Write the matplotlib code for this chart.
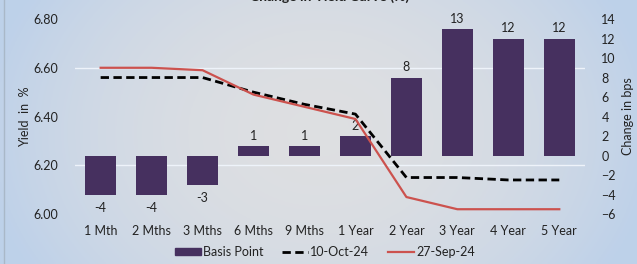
import matplotlib.pyplot as plt
from matplotlib.ticker import FixedLocator
from matplotlib.patches import Patch
from matplotlib.lines import Line2D
import numpy as np

plt.rcParams['font.family'] = ['Lato', 'DejaVu Sans']

tenors = ['1 Mth', '2 Mths', '3 Mths', '6 Mths', '9 Mths',
          '1 Year', '2 Year', '3 Year', '4 Year', '5 Year']
basis_point = [-4, -4, -3, 1, 1, 2, 8, 13, 12, 12]
yield_oct10 = [6.56, 6.56, 6.56, 6.50, 6.45, 6.41, 6.15, 6.15, 6.14, 6.14]
yield_sep27 = [6.60, 6.60, 6.59, 6.49, 6.44, 6.39, 6.07, 6.02, 6.02, 6.02]

bar_color = '#46305f'
red = '#cc524e'
txt = '#222222'

fig = plt.figure(figsize=(6.37, 2.64), dpi=100)

# background gradient: grey centre, light blue edges
bg = fig.add_axes([0, 0, 1, 1], zorder=-10)
xx, yy = np.meshgrid(np.linspace(-1, 1, 300), np.linspace(-1, 1, 120))
r = np.clip(np.abs(xx) ** 2 * 0.9 + np.abs(yy) ** 2 * 0.25, 0, 1)
c_mid = np.array([0.870, 0.875, 0.885])
c_edge = np.array([0.745, 0.820, 0.915])
img = c_mid[None, None, :] * (1 - r[..., None]) + c_edge[None, None, :] * r[..., None]
bg.imshow(img, aspect='auto', extent=[0, 1, 0, 1])
bg.axvline(0.006, color='#a9b8c8', lw=1)
bg.set_axis_off()

ax = fig.add_axes([0.118, 0.189, 0.800, 0.739])
ax.patch.set_visible(False)
ax2 = ax.twinx()
x = np.arange(len(tenors))

# bars on the right-hand scale
r_lim = (-6, 14)
l_lim = (6.0, 6.8)
l_ticks = np.arange(6.0, 6.81, 0.2)
ax.set_ylim(*r_lim)
ax.set_xlim(-0.5, len(tenors) - 0.5)
ax.bar(x, basis_point, width=0.6, color=bar_color, zorder=2)
for xi, v in zip(x, basis_point):
    off = 3 if v >= 0 else -5
    ax.annotate(str(v), (xi, v), xytext=(0, off), textcoords='offset points',
                ha='center', va='bottom' if v >= 0 else 'top',
                fontsize=9, color=txt)
ax.yaxis.tick_right()
ax.yaxis.set_label_position('right')
ax.set_yticks(np.arange(-6, 15, 2))
ax.set_ylabel('Change in bps', fontsize=9, color=txt, labelpad=4)
# gridlines follow the yield scale
grid_pos = r_lim[0] + (l_ticks - l_lim[0]) / (l_lim[1] - l_lim[0]) * (r_lim[1] - r_lim[0])
ax.yaxis.set_minor_locator(FixedLocator(grid_pos))
ax.grid(axis='y', which='minor', color='#eef3fa', lw=1, zorder=0)
ax.tick_params(axis='y', which='minor', length=0)
ax.set_xticks(x)
ax.set_xticklabels(tenors)
ax.tick_params(axis='both', which='major', length=0, labelsize=9, colors=txt)
ax.tick_params(axis='x', pad=8)
ax.tick_params(axis='y', pad=12)
for s in ax.spines.values():
    s.set_visible(False)

# lines on the left-hand yield scale
ax2.yaxis.tick_left()
ax2.yaxis.set_label_position('left')
ax2.plot(x, yield_oct10, color='black', lw=2, ls=(0, (3, 1.6)), zorder=3)
ax2.plot(x, yield_sep27, color=red, lw=1.6, zorder=4)
ax2.set_ylim(*l_lim)
ax2.set_yticks(l_ticks)
ax2.set_yticklabels([f'{t:.2f}' for t in l_ticks])
ax2.set_ylabel('Yield  in  %', fontsize=9, color=txt, labelpad=2)
ax2.tick_params(axis='y', length=0, labelsize=9, colors=txt, pad=12)
for s in ax2.spines.values():
    s.set_visible(False)

handles = [Patch(color=bar_color),
           Line2D([], [], color='black', lw=2, ls=(0, (3, 1.6))),
           Line2D([], [], color=red, lw=1.6)]
fig.legend(handles, ['Basis Point', '10-Oct-24', '27-Sep-24'], ncol=3,
           loc='lower center', bbox_to_anchor=(0.51, -0.02), frameon=False,
           fontsize=9, handlelength=2.1, handleheight=0.55, handletextpad=0.15,
           columnspacing=1.5, labelcolor=txt)

fig.text(0.518, 1 - 1 / 264, 'Change in Yield Curve (%)', ha='center',
         va='baseline', fontsize=10, fontweight='bold', color=txt)

fig.savefig('out.png', dpi=100)
